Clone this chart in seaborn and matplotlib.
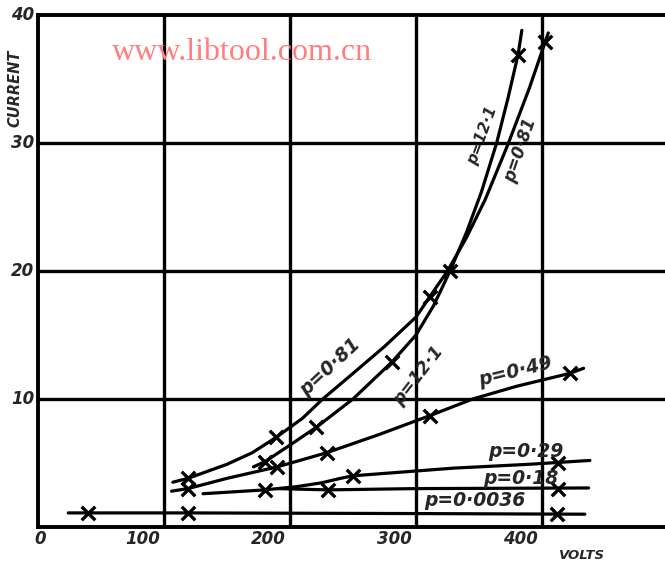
import matplotlib
matplotlib.use("Agg")
import matplotlib.pyplot as plt
import numpy as np
import pandas as pd
import seaborn as sns

# curves (volts, current)
c_0036_v = [24, 119, 300, 434]
c_0036_i = [1.1, 1.1, 1.05, 1.0]
c_018_v = [190, 230, 300, 437]
c_018_i = [3.0, 2.9, 3.0, 3.05]
c_029_v = [131, 180, 205, 225, 240, 250, 290, 330, 390, 438]
c_029_i = [2.6, 2.9, 3.15, 3.45, 3.8, 4.0, 4.3, 4.6, 4.9, 5.2]
c_049_v = [106, 119, 150, 190, 229, 270, 311, 345, 380, 422, 433]
c_049_i = [2.8, 3.0, 3.8, 4.7, 5.8, 7.2, 8.7, 10.0, 11.0, 12.0, 12.4]
c_081_v = [107, 119, 150, 170, 189, 210, 226, 250, 275, 300, 311, 325, 340, 355, 373, 390, 405]
c_081_i = [3.5, 3.8, 4.9, 5.8, 7.0, 8.5, 10.0, 12.0, 14.1, 16.4, 18.0, 20.0, 22.6, 25.6, 29.9, 34.3, 38.6]
c_121_v = [171, 180, 200, 221, 250, 281, 300, 314, 327, 340, 352, 364, 373, 381, 384]
c_121_i = [4.7, 5.1, 6.4, 7.8, 10.0, 12.9, 15.0, 17.3, 20.0, 23.0, 26.2, 30.0, 33.5, 36.9, 38.8]

# plotted points (crosses)
m_v = [40, 119, 412, 230, 413, 180, 250, 413, 119, 190, 229, 311, 422,
       180, 221, 281, 327, 381, 119, 189, 311, 402]
m_i = [1.1, 1.1, 1.0, 2.9, 3.0, 2.9, 4.0, 5.0, 3.0, 4.7, 5.8, 8.7, 12.0,
       5.1, 7.8, 12.9, 20.0, 36.9, 3.8, 7.0, 18.0, 37.9]

curves = {
    "p=0.0036": (c_0036_v, c_0036_i),
    "p=0.18": (c_018_v, c_018_i),
    "p=0.29": (c_029_v, c_029_i),
    "p=0.49": (c_049_v, c_049_i),
    "p=0.81": (c_081_v, c_081_i),
    "p=12.1": (c_121_v, c_121_i),
}

# label text, position, rotation, size
labels = [
    ("p=0·81", 232, 12.5, 43, 13.5),
    ("p=12·1", 302, 11.8, 52, 12.5),
    ("p=12·1", 353, 30.6, 70, 11),
    ("p=0·81", 383, 29.4, 71, 12),
    ("p=0·49", 379, 12.1, 14, 13.5),
    ("p=0·29", 387, 5.9, 0, 13.5),
    ("p=0·18", 383, 3.8, 0, 13.5),
    ("p=0·0036", 347, 2.1, 0, 13.5),
]
x_ticks = [0, 100, 200, 300, 400]
y_ticks = [10, 20, 30, 40]

sns.set_style("white")
plt.rcParams['font.family'] = ['DejaVu Sans']

fig = plt.figure(figsize=(6.65, 5.68), dpi=100)
ax = fig.add_axes([38 / 665, 1 - 527 / 568, 1 - 38 / 665, (527 - 15) / 568])

for name, (v, i) in curves.items():
    df = pd.DataFrame({"volts": v, "current": i})
    sns.lineplot(data=df, x="volts", y="current", sort=False, color="black",
                 linewidth=2.3, ax=ax, estimator=None)

pts = pd.DataFrame({"volts": m_v, "current": m_i})
sns.scatterplot(data=pts, x="volts", y="current", marker="x", s=95,
                color="black", linewidth=2.4, ax=ax, zorder=5)

ax.set_xlim(0, 627 / 1.26)
ax.set_ylim(0, 40)
for gx in x_ticks[1:]:
    ax.axvline(gx, color="black", lw=2.4, zorder=1)
for gy in y_ticks[:-1]:
    ax.axhline(gy, color="black", lw=2.4, zorder=1)

for side in ["left", "bottom", "top"]:
    ax.spines[side].set_linewidth(2.8)
    ax.spines[side].set_color("black")
ax.spines["right"].set_visible(False)

ax.set_xticks([])
ax.set_yticks([])
ax.set_xlabel("")
ax.set_ylabel("")

for t in x_ticks:
    xpos = 2 if t == 0 else t - 17
    ax.text(xpos, -0.9, str(t), ha="center", va="center", fontsize=12,
            fontweight="bold", fontstyle="italic", clip_on=False)
for t in y_ticks:
    ax.text(-3, t, str(t), ha="right", va="center", fontsize=12,
            fontweight="bold", fontstyle="italic", clip_on=False)

ax.text(-18, 34.3, "CURRENT", rotation=90, ha="center", va="center",
        fontsize=10.5, fontweight="bold", fontstyle="italic", clip_on=False)
ax.text(432, -2.2, "VOLTS", ha="center", va="center", fontsize=9.5,
        fontweight="bold", fontstyle="italic", clip_on=False)

for txt, lx, ly, rot, fs in labels:
    ax.text(lx, ly, txt, rotation=rot, ha="center", va="center", fontsize=fs,
            fontweight="bold", fontstyle="italic", zorder=6,
            rotation_mode="anchor")

fig.text(242 / 665, 1 - 52 / 568, "www.libtool.com.cn", color="#ff7f7f",
         fontsize=23, family="Liberation Serif", ha="center", va="center")

fig.savefig("out.png", dpi=100, facecolor="white")
